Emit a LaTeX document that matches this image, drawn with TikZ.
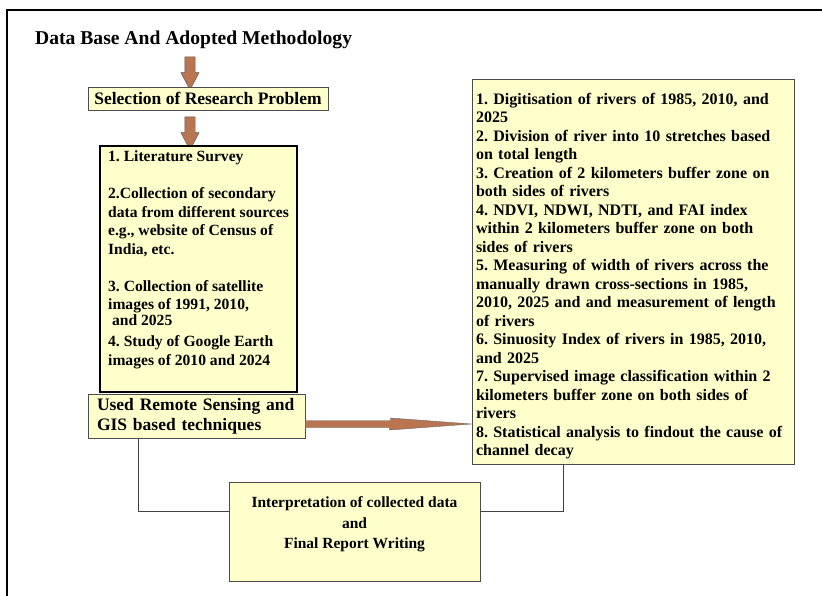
\documentclass[tikz,border=0pt]{standalone}
\usepackage{fontspec}
\setmainfont{Liberation Serif}
\usepackage{tikz}
\usetikzlibrary{arrows.meta, positioning, shapes.arrows, calc}
\usepackage{xcolor}
\definecolor{boxyellow}{HTML}{FFFFCC}
\definecolor{arrowbrown}{HTML}{B97450}
\frenchspacing

\begin{document}
\begin{tikzpicture}[
  x=1pt, y=-1pt,
  box/.style={draw=black!70, fill=boxyellow, line width=0.9pt, inner sep=4pt, font=\bfseries\fontsize{16}{18.5}\selectfont},
  headbox/.style={box, font=\bfseries\fontsize{17.5}{20}\selectfont},
  listbox/.style={box, align=left, line width=2.6pt, draw=black, font=\bfseries\fontsize{15.6}{18.5}\selectfont},
  blockarrow/.style={single arrow, draw=black!65, fill=arrowbrown, shape border rotate=270, minimum width=18pt, single arrow head extend=4pt, single arrow tip angle=56, inner sep=5pt, minimum height=33pt},
  flatarrow/.style={draw=black!60, fill=arrowbrown, line width=0.4pt},
  link/.style={draw=black!75, line width=0.9pt},
  frame/.style={draw=black, line width=2pt}
]
  \useasboundingbox (0,0) rectangle (822,596);

  % Cadre ================================
  \draw[frame] (7,596) -- (7,10) -- (822,10);

  % Flux principal vertical
  \node[anchor=base west, inner sep=0pt, font=\bfseries\fontsize{19.6}{24}\selectfont] (title) at (35,44.5) {Data Base And Adopted Methodology};
  \node[blockarrow] (arr1) at (190,68.5) {};
  \node[headbox, minimum width=240pt, minimum height=23pt] (select) at (208,98.5) {Selection of Research Problem};
  \node[blockarrow] (arr2) at (190,128.5) {};

  \node[listbox, minimum width=197pt, minimum height=246pt, text depth=21.5pt] (survey) at (198.5,269) {1. Literature Survey\\[18.5pt]
    2.Collection of secondary\\ data from different sources\\ e.g., website of Census of\\ India, etc.\\[18.5pt]
    3. Collection of satellite\\ images of 1991, 2010,\\[-2.5pt] \ and 2025\\[2.5pt]
    4. Study of Google Earth\\ images of 2010 and 2024};

  \node[headbox, align=left, text width=207pt, inner xsep=5pt, minimum height=41pt] (used) at (196.5,416.5) {\hspace*{4pt}Used Remote Sensing and\\ \hspace*{4pt}GIS based techniques};

  % Etapes de traitement
  \node[box, align=left, text width=314pt, minimum height=385pt] (steps) at (633,271.5) {\rule{0pt}{20pt}1. Digitisation of rivers of 1985, 2010, and\\ 2025\\
    2. Division of river into 10 stretches based\\ on total length\\
    3. Creation of 2 kilometers buffer zone on\\ both sides of rivers\\
    4. NDVI, NDWI, NDTI, and FAI index\\ within 2 kilometers buffer zone on both\\ sides of rivers\\
    5. Measuring of width of rivers across the\\ manually drawn cross-sections in 1985,\\ 2010, 2025 and and measurement of length\\ of rivers\\
    6. Sinuosity Index of rivers in 1985, 2010,\\ and 2025\\
    7. Supervised image classification within 2\\ kilometers buffer zone on both sides of\\ rivers\\
    8. Statistical analysis to findout the cause of\\ channel decay};

  \node[box, align=center, minimum width=251pt, minimum height=99pt, text depth=17pt, font=\bfseries\fontsize{15.5}{20.5}\selectfont] (interp) at (354.5,531.5) {Interpretation of collected data\\ and\\ Final Report Writing};

  % Fleche horizontale vers les etapes
  \draw[flatarrow] ($(used.east)+(0,4)$) -- ++(85,0) -- ++(0,-2.5) -- ($(steps.west |- used.east)+(0,7.5)$) -- ++(-82,6) -- ++(0,-2.5) -- ($(used.east)+(0,11)$) -- cycle;

  % Liaisons vers l'interpretation
  \draw[link] ($(used.south)+(-58.5,0)$) |- ($(interp.west)+(0,-20.5)$);
  \draw[link] ($(interp.east)+(0,-20.5)$) -| ($(steps.south)+(-70,0)$);

\end{tikzpicture}
\end{document}
